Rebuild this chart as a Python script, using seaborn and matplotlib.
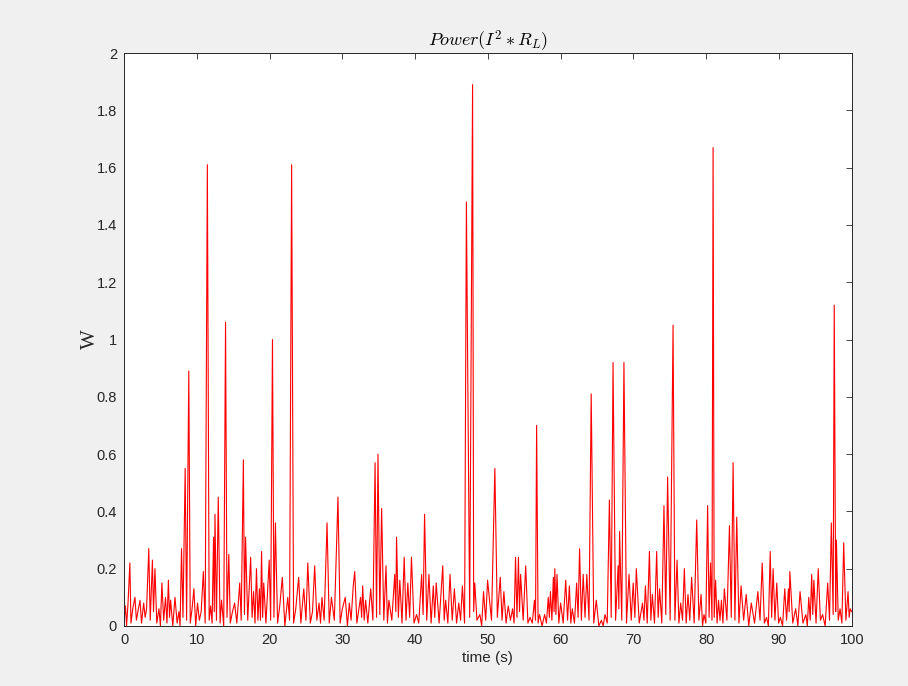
import numpy as np
import pandas as pd
import seaborn as sns
import matplotlib.pyplot as plt

# Power trace, in four 25 s segments (time in s, power in W)
t_a = [0.0, 0.2, 0.35, 0.55, 0.8, 0.95, 1.2, 1.5, 1.7, 1.9,
       2.2, 2.4, 2.7, 2.9, 3.1, 3.4, 3.6, 3.9, 4.05, 4.25,
       4.5, 4.8, 5.0, 5.2, 5.45, 5.7, 5.9, 6.1, 6.25, 6.4,
       6.7, 7.0, 7.3, 7.55, 7.7, 7.9, 8.1, 8.4, 8.6, 8.9,
       9.1, 9.35, 9.6, 9.85, 10.1, 10.35, 10.6, 10.9, 11.15, 11.45,
       11.7, 11.9, 12.1, 12.3, 12.4, 12.5, 12.7, 12.95, 13.2, 13.4,
       13.7, 13.95, 14.15, 14.4, 14.6, 14.9, 15.2, 15.5, 15.9, 16.1,
       16.4, 16.55, 16.7, 17.0, 17.4, 17.6, 17.8, 18.0, 18.2, 18.4,
       18.6, 18.75, 18.9, 19.05, 19.2, 19.5, 19.95, 20.15, 20.4, 20.6,
       20.8, 21.1, 21.4, 21.75, 22.1, 22.5, 22.75, 23.03, 23.3, 23.6,
       24.0, 24.3, 24.7, 25.0]
w_a = [0.02, 0.07, 0.0, 0.08, 0.22, 0.01, 0.06, 0.10, 0.02, 0.05,
       0.09, 0.01, 0.08, 0.03, 0.06, 0.27, 0.02, 0.23, 0.05, 0.20,
       0.01, 0.06, 0.0, 0.15, 0.02, 0.10, 0.01, 0.16, 0.03, 0.09,
       0.0, 0.10, 0.01, 0.05, 0.0, 0.27, 0.03, 0.55, 0.02, 0.89,
       0.01, 0.06, 0.13, 0.0, 0.08, 0.02, 0.05, 0.19, 0.01, 1.61,
       0.02, 0.07, 0.01, 0.31, 0.05, 0.39, 0.02, 0.45, 0.01, 0.09,
       0.0, 1.06, 0.03, 0.25, 0.01, 0.05, 0.08, 0.01, 0.15, 0.02,
       0.58, 0.04, 0.31, 0.02, 0.24, 0.03, 0.12, 0.01, 0.20, 0.02,
       0.13, 0.02, 0.26, 0.03, 0.15, 0.01, 0.23, 0.02, 1.00, 0.03,
       0.36, 0.01, 0.07, 0.17, 0.0, 0.10, 0.02, 1.61, 0.01, 0.06,
       0.17, 0.01, 0.13, 0.02]

t_b = [25.25, 25.6, 25.9, 26.2, 26.5, 26.8, 27.0, 27.2, 27.5, 27.9,
       28.2, 28.5, 28.9, 29.4, 29.7, 30.0, 30.4, 30.7, 30.96, 31.2,
       31.5, 31.7, 32.0, 32.5, 32.65, 32.8, 33.0, 33.2, 33.5, 33.9,
       34.2, 34.5, 34.7, 34.9, 35.15, 35.4, 35.7, 36.0, 36.2, 36.4,
       36.8, 37.2, 37.35, 37.45, 37.7, 37.9, 38.2, 38.5, 38.75, 39.0,
       39.25, 39.5, 39.85, 40.2, 40.5, 40.9, 41.1, 41.3, 41.6, 41.9,
       42.2, 42.5, 42.7, 42.9, 43.3, 43.8, 44.0, 44.2, 44.5, 44.8,
       45.1, 45.4, 45.7, 46.0, 46.25, 46.5, 46.8, 47.05, 47.5, 47.9,
       48.05, 48.2, 48.5, 48.9, 49.15, 49.4, 49.7, 49.96]
w_b = [0.22, 0.01, 0.05, 0.21, 0.02, 0.08, 0.01, 0.10, 0.02, 0.36,
       0.01, 0.10, 0.02, 0.45, 0.01, 0.06, 0.10, 0.0, 0.08, 0.02,
       0.14, 0.19, 0.01, 0.10, 0.03, 0.14, 0.02, 0.09, 0.01, 0.13,
       0.02, 0.57, 0.03, 0.60, 0.04, 0.41, 0.02, 0.21, 0.01, 0.09,
       0.02, 0.18, 0.05, 0.31, 0.03, 0.16, 0.01, 0.24, 0.02, 0.15,
       0.03, 0.24, 0.01, 0.04, 0.01, 0.18, 0.04, 0.39, 0.02, 0.18,
       0.01, 0.14, 0.03, 0.15, 0.01, 0.21, 0.02, 0.09, 0.01, 0.18,
       0.02, 0.13, 0.01, 0.08, 0.02, 0.14, 0.01, 1.48, 0.03, 1.89,
       0.05, 0.15, 0.02, 0.04, 0.0, 0.12, 0.02, 0.16]

t_c = [50.5, 50.96, 51.3, 51.7, 51.95, 52.2, 52.5, 52.8, 53.1, 53.4,
       53.6, 53.8, 54.0, 54.2, 54.35, 54.5, 54.85, 55.2, 55.5, 55.8,
       56.1, 56.4, 56.55, 56.7, 56.9, 57.1, 57.45, 57.8, 58.05, 58.3,
       58.45, 58.6, 58.8, 59.0, 59.1, 59.2, 59.35, 59.5, 59.75, 60.0,
       60.35, 60.7, 60.95, 61.2, 61.4, 61.6, 61.9, 62.2, 62.4, 62.6,
       62.85, 63.1, 63.35, 63.6, 63.9, 64.2, 64.55, 64.9, 65.25, 65.6,
       65.85, 66.1, 66.4, 66.7, 66.95, 67.2, 67.55, 67.9, 68.0, 68.1,
       68.4, 68.7, 69.05, 69.4, 69.7, 69.97, 70.2, 70.4, 70.8, 71.25,
       71.45, 71.65, 71.9, 72.2, 72.4, 72.6, 72.9, 73.2, 73.4, 73.6,
       73.9, 74.2, 74.45, 74.7, 75.05]
w_c = [0.02, 0.55, 0.03, 0.17, 0.02, 0.12, 0.01, 0.07, 0.02, 0.06,
       0.01, 0.24, 0.03, 0.24, 0.05, 0.18, 0.02, 0.21, 0.01, 0.03,
       0.01, 0.09, 0.02, 0.70, 0.01, 0.04, 0.0, 0.04, 0.01, 0.10,
       0.03, 0.12, 0.02, 0.17, 0.05, 0.20, 0.04, 0.18, 0.01, 0.08,
       0.01, 0.16, 0.02, 0.14, 0.01, 0.06, 0.01, 0.15, 0.03, 0.27,
       0.02, 0.18, 0.03, 0.18, 0.02, 0.81, 0.01, 0.09, 0.0, 0.02,
       0.0, 0.04, 0.01, 0.44, 0.03, 0.92, 0.02, 0.21, 0.06, 0.33,
       0.02, 0.92, 0.01, 0.18, 0.02, 0.15, 0.03, 0.20, 0.01, 0.08,
       0.02, 0.14, 0.01, 0.26, 0.02, 0.11, 0.01, 0.26, 0.03, 0.13,
       0.01, 0.42, 0.04, 0.52, 0.02]

t_d = [75.45, 75.7, 76.0, 76.25, 76.5, 76.75, 77.0, 77.25, 77.5, 77.75,
       78.0, 78.35, 78.7, 79.0, 79.3, 79.5, 79.7, 79.95, 80.2, 80.4,
       80.6, 80.8, 80.95, 81.1, 81.3, 81.5, 81.7, 81.9, 82.1, 82.3,
       82.5, 82.85, 83.2, 83.45, 83.7, 83.95, 84.2, 84.5, 84.8, 85.15,
       85.5, 85.85, 86.2, 86.65, 87.1, 87.4, 87.7, 88.0, 88.3, 88.55,
       88.8, 89.0, 89.2, 89.45, 89.7, 89.95, 90.2, 90.5, 90.8, 91.05,
       91.3, 91.4, 91.5, 91.9, 92.3, 92.6, 92.9, 93.3, 93.7, 93.9,
       94.1, 94.3, 94.5, 94.65, 94.8, 95.1, 95.4, 95.7, 96.0, 96.35,
       96.7, 96.95, 97.2, 97.45, 97.6, 97.8, 97.9, 98.15, 98.4, 98.65,
       98.9, 99.2, 99.5, 99.65, 99.8, 100.0]
w_d = [1.05, 0.02, 0.23, 0.01, 0.08, 0.02, 0.20, 0.01, 0.11, 0.02,
       0.17, 0.01, 0.37, 0.02, 0.11, 0.0, 0.04, 0.01, 0.42, 0.03,
       0.22, 0.02, 1.67, 0.03, 0.16, 0.01, 0.09, 0.02, 0.09, 0.01,
       0.13, 0.02, 0.35, 0.03, 0.57, 0.02, 0.38, 0.01, 0.14, 0.02,
       0.11, 0.0, 0.08, 0.01, 0.12, 0.02, 0.22, 0.01, 0.03, 0.0,
       0.26, 0.03, 0.20, 0.02, 0.15, 0.01, 0.03, 0.0, 0.13, 0.02,
       0.13, 0.05, 0.19, 0.01, 0.06, 0.0, 0.12, 0.01, 0.04, 0.0,
       0.10, 0.02, 0.18, 0.04, 0.16, 0.01, 0.20, 0.02, 0.04, 0.0,
       0.15, 0.02, 0.36, 0.04, 1.12, 0.05, 0.30, 0.02, 0.06, 0.01,
       0.29, 0.02, 0.12, 0.03, 0.06, 0.05]

x_ticks = list(range(0, 101, 10))
y_ticks = [0, 0.2, 0.4, 0.6, 0.8, 1, 1.2, 1.4, 1.6, 1.8, 2]

data = pd.DataFrame({
    'time': t_a + t_b + t_c + t_d,
    'power': w_a + w_b + w_c + w_d,
})

sns.set_style('white')
plt.rcParams['font.family'] = ['Liberation Sans', 'DejaVu Sans']
plt.rcParams['mathtext.fontset'] = 'cm'

ink = '#262626'
fig = plt.figure(figsize=(9.08, 6.86), dpi=100, facecolor='#f0f0f0')
ax = fig.add_axes([0.1366, 0.0875, 0.8014, 0.8352])
ax.set_facecolor('white')

sns.lineplot(data=data, x='time', y='power', color='#ff0000', lw=0.8,
             estimator=None, sort=False, ax=ax)

ax.set_xlim(0, 100)
ax.set_ylim(0, 2)
ax.set_xticks(x_ticks)
ax.set_yticks(y_ticks)
ax.set_yticklabels([f'{v:g}' for v in y_ticks])
ax.tick_params(direction='in', length=4, width=0.6, colors=ink,
               labelsize=10.5, top=True, right=True, pad=5)
for s in ax.spines.values():
    s.set_visible(True)
    s.set_color(ink)
    s.set_linewidth(0.7)

ax.set_title(r'$Power(I^2 * R_L)$', fontsize=13, color='black', pad=5)
ax.set_xlabel('time (s)', fontsize=11, color=ink, labelpad=3)
ax.set_ylabel('W', fontsize=15, color=ink, family='Liberation Serif', labelpad=-2)

fig.savefig('out.png', dpi=100, facecolor=fig.get_facecolor())
